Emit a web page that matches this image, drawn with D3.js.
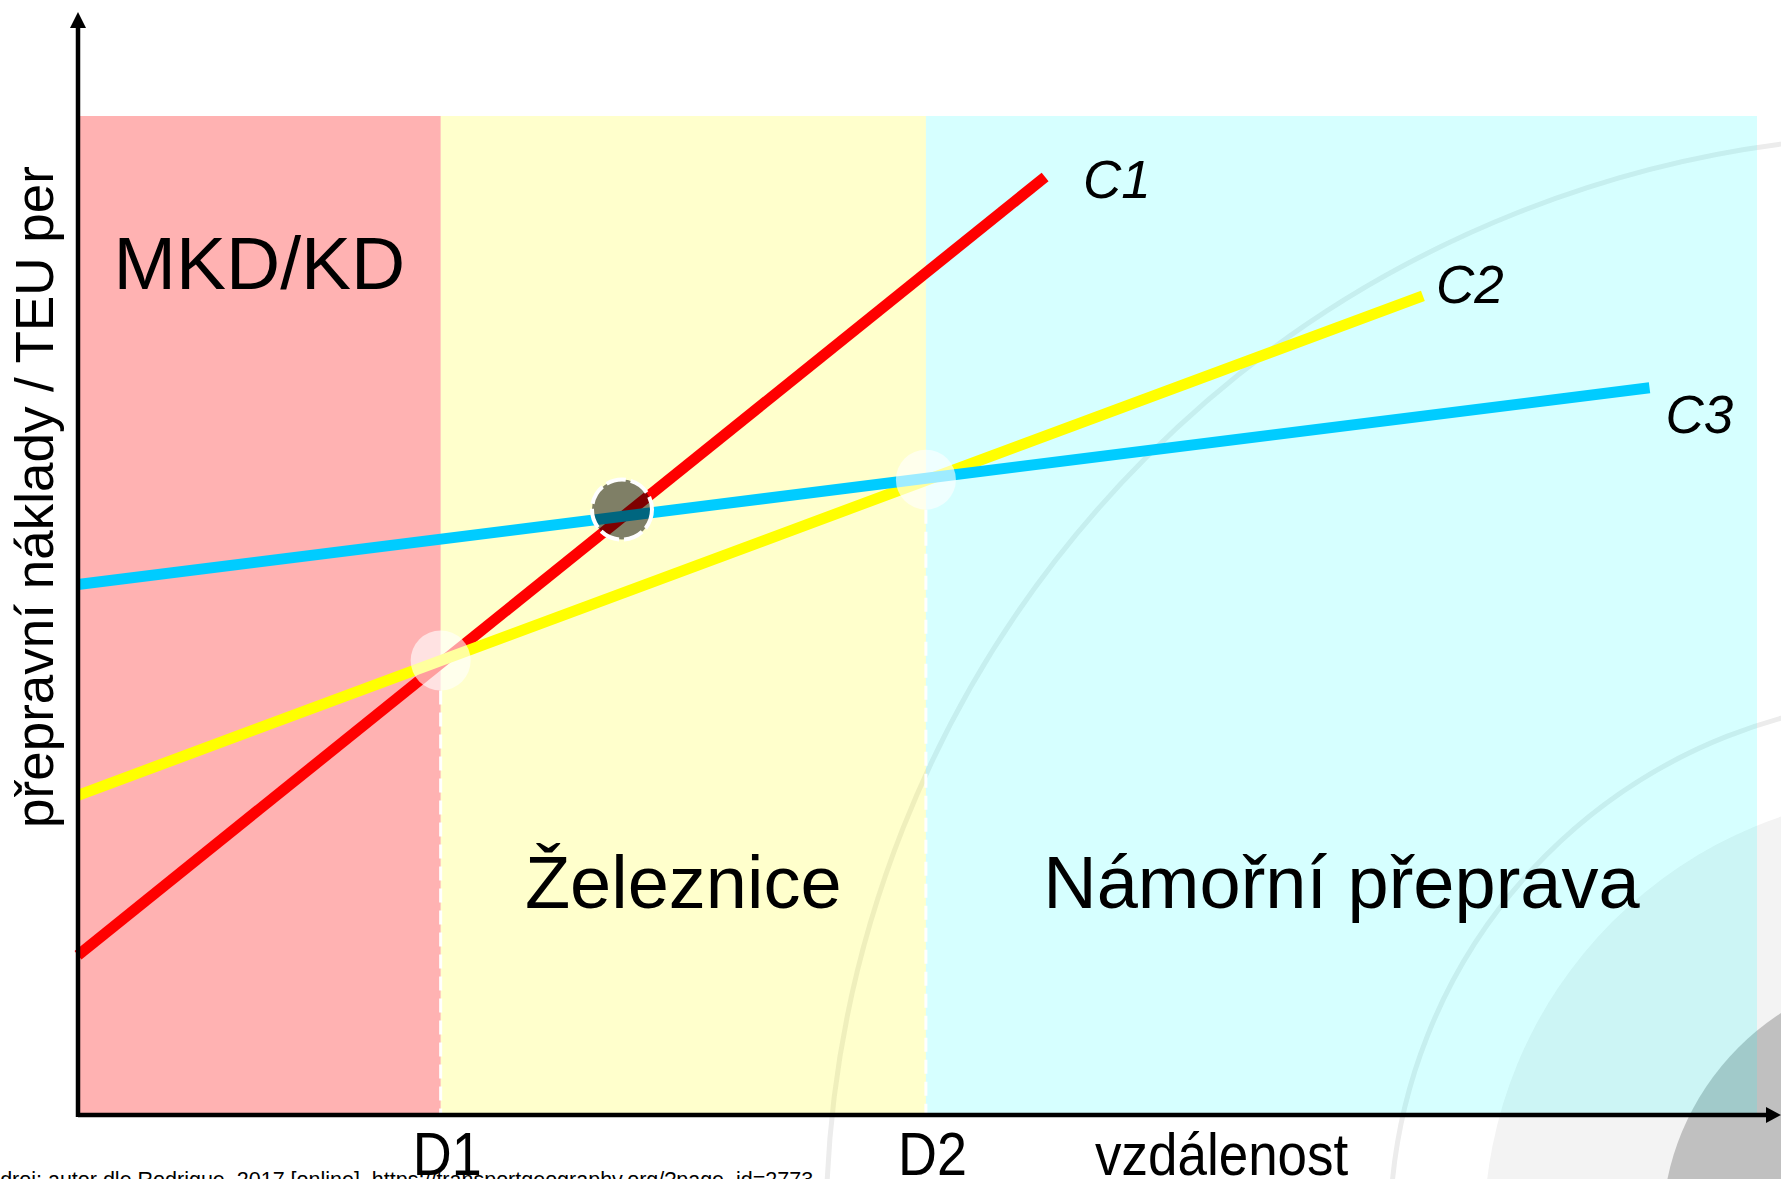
<!DOCTYPE html>
<html lang="cs">
<head>
    <meta charset="UTF-8">
    <title>Přepravní náklady podle vzdálenosti</title>
    <style>
        body {
            margin: 0;
            background: #fff;
            font-family: "Liberation Sans", Arial, sans-serif;
        }
        svg text {
            fill: #000;
        }
    </style>
</head>
<body>
<div id="chart"></div>

<script src="https://d3js.org/d3.v7.min.js"></script>
<script>
    // Zones (transport modes) along distance axis
    const zoneNames = ["MKD/KD", "Železnice", "Námořní přeprava"];
    const zoneStart = [0, 216, 505];
    const zoneEnd = [216, 505, 1000];

    // Break-even distances
    const distLabels = ["D1", "D2"];
    const distValues = [216, 505];

    // Cost curves (start and end points, in chart units)
    const curveNames = ["C1", "C2", "C3"];
    const curveX0 = [0, 0, 0];
    const curveY0 = [160, 320, 531];
    const curveX1 = [576, 801, 936];
    const curveY1 = [939, 820, 728];

    // Highlighted intersections
    const markerX = [216, 324, 505];
    const markerY = [455, 606, 636];

    const xTitle = "vzdálenost";
    const yTitle = "přepravní náklady / TEU per";
    const source = "Zdroj: autor dle Rodrigue, 2017 [online]. https://transportgeography.org/?page_id=2773";

    // styles
    const zoneFill = ["rgba(255,0,0,0.3)", "rgba(255,255,0,0.2)", "rgba(0,255,255,0.16)"];
    const curveColor = ["#ff0000", "#ffff00", "#00ccff"];
    const labelDx = [38, 13, 16];
    const labelDy = [21, 7, 45];

    const width = 1781;
    const height = 1179;

    const svg = d3.select("#chart")
        .append("svg")
        .attr("width", width)
        .attr("height", height)
        .style("display", "block");

    const x = d3.scaleLinear().domain([0, 1000]).range([78, 1757]);
    const y = d3.scaleLinear().domain([0, 1000]).range([1115, 116]);

    // background decoration (slide template rings)
    const deco = svg.append("g");
    const cx = 1923, cy = 1232;
    deco.append("circle").attr("cx", cx).attr("cy", cy).attr("r", 1097)
        .attr("fill", "none").attr("stroke", "#ececec").attr("stroke-width", 5);
    deco.append("circle").attr("cx", cx).attr("cy", cy).attr("r", 533)
        .attr("fill", "none").attr("stroke", "#ececec").attr("stroke-width", 5);
    deco.append("circle").attr("cx", cx).attr("cy", cy).attr("r", 439)
        .attr("fill", "#f3f3f3");
    deco.append("circle").attr("cx", cx).attr("cy", cy).attr("r", 261)
        .attr("fill", "#c0c0c0");

    // zones
    svg.selectAll(".zone")
        .data(zoneNames)
        .enter()
        .append("rect")
        .attr("class", "zone")
        .attr("x", (d, i) => x(zoneStart[i]))
        .attr("y", y(1000))
        .attr("width", (d, i) => x(zoneEnd[i]) - x(zoneStart[i]))
        .attr("height", y(0) - y(1000))
        .attr("fill", (d, i) => zoneFill[i]);

    // dashed verticals at D1, D2
    const r = 30;
    svg.selectAll(".dline")
        .data(distValues)
        .enter()
        .append("line")
        .attr("class", "dline")
        .attr("x1", d => x(d))
        .attr("x2", d => x(d))
        .attr("y1", (d, i) => y(markerY[i === 0 ? 0 : 2]) + r)
        .attr("y2", y(0))
        .attr("stroke", "#fff")
        .attr("stroke-width", 3)
        .attr("stroke-dasharray", "14,8");

    // cost curves
    const line = d3.line().x(d => x(d[0])).y(d => y(d[1]));
    svg.selectAll(".curve")
        .data(curveNames)
        .enter()
        .append("path")
        .attr("class", "curve")
        .attr("d", (d, i) => line([[curveX0[i], curveY0[i]], [curveX1[i], curveY1[i]]]))
        .attr("fill", "none")
        .attr("stroke", (d, i) => curveColor[i])
        .attr("stroke-width", 11);

    svg.selectAll(".clabel")
        .data(curveNames)
        .enter()
        .append("text")
        .attr("class", "clabel")
        .attr("x", (d, i) => x(curveX1[i]) + labelDx[i])
        .attr("y", (d, i) => y(curveY1[i]) + labelDy[i])
        .attr("font-size", 53)
        .attr("font-style", "italic")
        .text(d => d);

    // intersection markers
    svg.selectAll(".marker")
        .data(markerX)
        .enter()
        .append("circle")
        .attr("class", "marker")
        .attr("cx", d => x(d))
        .attr("cy", (d, i) => y(markerY[i]))
        .attr("r", r)
        .attr("fill", (d, i) => i === 1 ? "rgba(0,0,0,0.5)" : "rgba(255,255,255,0.62)")
        .attr("stroke", (d, i) => i === 1 ? "#fff" : "none")
        .attr("stroke-width", 4)
        .attr("stroke-dasharray", "20,5");

    // zone labels
    svg.selectAll(".zlabel")
        .data(zoneNames)
        .enter()
        .append("text")
        .attr("class", "zlabel")
        .attr("x", (d, i) => (x(zoneStart[i]) + x(zoneEnd[i])) / 2)
        .attr("y", (d, i) => i === 0 ? 289 : 908)
        .attr("text-anchor", "middle")
        .attr("font-size", (d, i) => i === 0 ? 75 : 74)
        .text(d => d);

    // axes
    const axisX = d3.axisBottom(x)
        .tickValues(distValues)
        .tickFormat((d, i) => distLabels[i])
        .tickSize(0)
        .tickPadding(0);
    const gx = svg.append("g")
        .attr("transform", `translate(0,${y(0)})`)
        .call(axisX);
    gx.select(".domain").remove();
    gx.selectAll(".tick text")
        .attr("font-family", "Liberation Sans, Arial, sans-serif")
        .attr("font-size", 54)
        .attr("fill", "#000")
        .attr("dy", null)
        .attr("y", 0)
        .attr("transform", "translate(6,60) scale(1,1.12)");

    svg.append("text")
        .attr("x", 1095)
        .attr("y", 0)
        .attr("font-size", 53)
        .attr("transform", `translate(0,${y(0) + 60}) scale(1,1.12)`)
        .text(xTitle);

    svg.append("line")
        .attr("x1", x(0)).attr("x2", 1768)
        .attr("y1", y(0)).attr("y2", y(0))
        .attr("stroke", "#000").attr("stroke-width", 4.5);
    svg.append("path")
        .attr("d", `M1781,${y(0)} L1766,${y(0) - 8} L1766,${y(0) + 8} Z`)
        .attr("fill", "#000");

    svg.append("line")
        .attr("x1", x(0)).attr("x2", x(0))
        .attr("y1", y(0) + 2).attr("y2", 24)
        .attr("stroke", "#000").attr("stroke-width", 4.5);
    svg.append("path")
        .attr("d", `M${x(0)},12 L${x(0) - 8},28 L${x(0) + 8},28 Z`)
        .attr("fill", "#000");

    svg.append("text")
        .attr("transform", "translate(53,497) rotate(-90)")
        .attr("text-anchor", "middle")
        .attr("font-size", 53)
        .text(yTitle);

    svg.append("text")
        .attr("x", -13)
        .attr("y", 1187)
        .attr("font-size", 21.5)
        .text(source);
</script>
</body>
</html>
